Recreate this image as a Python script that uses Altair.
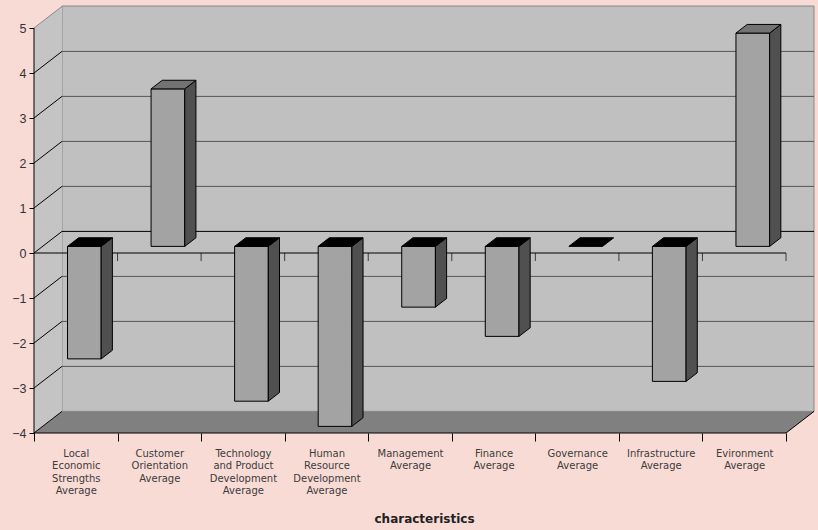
import altair as alt
import pandas as pd

# ---------------- data ----------------
CATEGORIES = [
    "Local~Economic~Strengths~Average",
    "Customer~Orientation~Average",
    "Technology~and Product~Development~Average",
    "Human~Resource~Development~Average",
    "Management~Average",
    "Finance~Average",
    "Governance~Average",
    "Infrastructure~Average",
    "Evironment~Average",
]
VALUES = [-2.5, 3.5, -3.44, -4.0, -1.35, -2.0, 0.0, -3.0, 4.74]
Y_TICKS = [-4, -3, -2, -1, 0, 1, 2, 3, 4, 5]
X_TITLE = "characteristics"

# ---------------- geometry / style ----------------
BG = "#f9dbd6"
N = len(CATEGORIES)
DX = 0.335          # depth offset (category units)
DY = 0.48           # depth offset (value units)
W, H = 780, 427
Y_MIN = Y_TICKS[0]
Y_MAX = Y_MIN + H / 45.0
X_MAX = N + DX
BAR_POS = 0.306     # depth fraction of bar front face
BAR_DEPTH = 0.4
BAR_W = 0.403
SX = BAR_POS * DX
SY = BAR_POS * DY
BDX = BAR_DEPTH * DX
BDY = BAR_DEPTH * DY

XS = alt.Scale(domain=[0, X_MAX], nice=False, zero=False)
YS = alt.Scale(domain=[Y_MIN, Y_MAX], nice=False, zero=False)

label_arr = "[" + ",".join("'" + c + "'" for c in CATEGORIES) + "]"
XAX = alt.Axis(
    values=list(range(N + 1)), domain=False, grid=False,
    tickColor="black", tickSize=8, tickWidth=1,
    labelExpr=f"datum.value < {N} ? split({label_arr}[datum.value], '~') : ''",
    labelOffset=W / X_MAX / 2, labelAlign="center", labelBaseline="top",
    labelFlush=False, labelOverlap=False, labelBound=False,
    labelFont="DejaVu Sans", labelFontSize=10, labelColor="#3c3c3c",
    labelLineHeight=12.5, labelPadding=7,
    title=X_TITLE, titleFont="DejaVu Sans", titleFontSize=12, titleFontWeight="bold",
    titleColor="#222222", titleY=85, titleBaseline="middle",
)
YAX = alt.Axis(
    values=Y_TICKS, domain=False, grid=False, tickColor="black", tickSize=5,
    labelFont="Liberation Sans", labelFontSize=12.5, labelColor="#333333",
    labelPadding=3, title=None,
)


def xq(f="x"):
    return alt.X(f"{f}:Q", scale=XS, axis=XAX)


def yq(f="y"):
    return alt.Y(f"{f}:Q", scale=YS, axis=YAX)


# ---------------- frames ----------------
back = pd.DataFrame([{"x": DX, "x2": X_MAX, "y": Y_MIN + DY, "y2": Y_MAX}])
leftwall = pd.DataFrame([
    {"x": 0, "y": Y_MIN, "y2": Y_TICKS[-1]},
    {"x": DX, "y": Y_MIN + DY, "y2": Y_TICKS[-1] + DY},
])
floor = pd.DataFrame([
    {"y": Y_MIN, "x": 0, "x2": N},
    {"y": Y_MIN + DY, "x": DX, "x2": N + DX},
])
back_grid = pd.DataFrame([
    {"x": DX, "x2": X_MAX, "y": k + DY, "y2": k + DY,
     "c": "#000000" if k == 0 else "#555555"}
    for k in Y_TICKS if Y_MIN < k < Y_TICKS[-1]
])
diag = pd.DataFrame([
    {"x": 0, "x2": DX, "y": k, "y2": k + DY,
     "c": "#888888" if k == Y_TICKS[-1] else "#000000"}
    for k in Y_TICKS
] + [{"x": N, "x2": N + DX, "y": Y_MIN, "y2": Y_MIN + DY, "c": "#000000"}])
front_lines = pd.DataFrame([
    {"x": 0, "x2": N, "y": 0, "y2": 0},
    {"x": 0, "x2": N, "y": Y_MIN, "y2": Y_MIN},
    {"x": 0, "x2": 0, "y": Y_MIN, "y2": Y_TICKS[-1]},
])
zero_ticks = pd.DataFrame({"x": list(range(1, N + 1)), "y": [0] * N})

front, side, top = [], [], []
for i, v in enumerate(VALUES):
    x0 = i + 0.5 + SX - BAR_W / 2
    x1 = x0 + BAR_W
    lo = min(0, v) + SY
    hi = max(0, v) + SY
    if v != 0:
        front.append({"bar": i, "x": x0, "x2": x1, "y": lo, "y2": hi})
        side.append({"bar": i, "x": x1, "y": lo, "y2": hi})
        side.append({"bar": i, "x": x1 + BDX, "y": lo + BDY, "y2": hi + BDY})
    fill = "#737373" if v > 0 else "#000000"
    top.append({"bar": i, "y": hi, "x": x0, "x2": x1, "fill": fill})
    top.append({"bar": i, "y": hi + BDY, "x": x0 + BDX, "x2": x1 + BDX, "fill": fill})
front = pd.DataFrame(front)
side = pd.DataFrame(side)
top = pd.DataFrame(top)

# ---------------- layers ----------------
l_back = alt.Chart(back).mark_rect(fill="#c0c0c0", stroke="#888888", strokeWidth=1).encode(
    x=xq(), x2="x2:Q", y=yq(), y2="y2:Q")
l_left = alt.Chart(leftwall).mark_area(orient="vertical", fill="#c4c4c4").encode(
    x=xq(), y=yq(), y2="y2:Q")
l_floor = alt.Chart(floor).mark_area(orient="horizontal", fill="#808080").encode(
    y=yq(), x=xq(), x2="x2:Q")
l_bgrid = alt.Chart(back_grid).mark_rule(strokeWidth=1).encode(
    x=xq(), x2="x2:Q", y=yq(), y2="y2:Q", color=alt.Color("c:N", scale=None))
l_diag = alt.Chart(diag).mark_rule(strokeWidth=1).encode(
    x=xq(), x2="x2:Q", y=yq(), y2="y2:Q", color=alt.Color("c:N", scale=None))
l_front = alt.Chart(front_lines).mark_rule(color="black", strokeWidth=1).encode(
    x=xq(), x2="x2:Q", y=yq(), y2="y2:Q")
l_ticks = alt.Chart(zero_ticks).mark_tick(
    orient="vertical", size=8, thickness=1, yOffset=4, color="black").encode(
    x=xq(), y=yq())
l_bfront = alt.Chart(front).mark_rect(fill="#a3a3a3", stroke="black", strokeWidth=1).encode(
    x=xq(), x2="x2:Q", y=yq(), y2="y2:Q")
l_bside = alt.Chart(side).mark_area(
    orient="vertical", fill="#505050", stroke="black", strokeWidth=1).encode(
    x=xq(), y=yq(), y2="y2:Q", detail="bar:N")
l_btop = alt.Chart(top).mark_area(
    orient="horizontal", stroke="black", strokeWidth=1).encode(
    y=yq(), x=xq(), x2="x2:Q", detail="bar:N",
    fill=alt.Fill("fill:N", scale=None))

chart = alt.layer(
    l_back, l_left, l_floor, l_bgrid, l_diag, l_front, l_ticks,
    l_bfront, l_bside, l_btop,
).properties(
    width=W, height=H,
    padding={"left": 34, "top": 6, "right": 4, "bottom": 97},
    autosize=alt.AutoSizeParams(type="none"),
    background=BG,
).configure_view(strokeWidth=0)

chart.save("out.html", embed_options={"renderer": "svg", "actions": False})
